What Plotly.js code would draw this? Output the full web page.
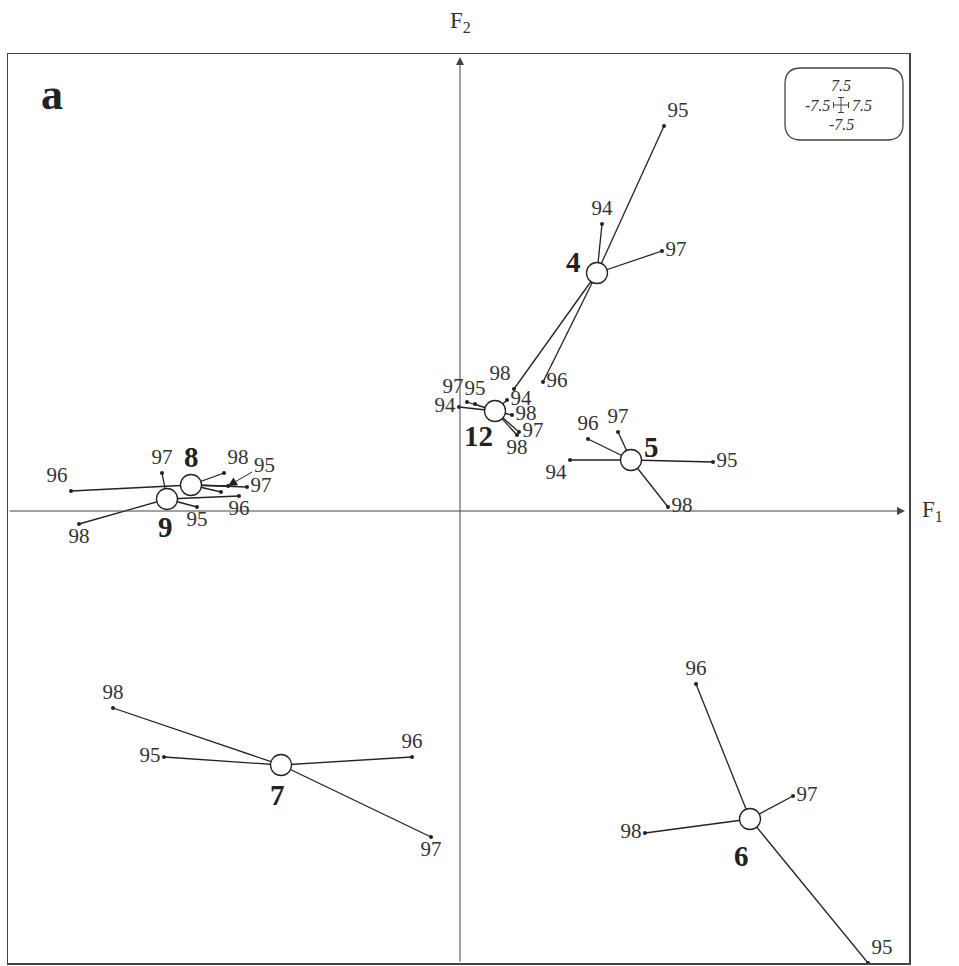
<!DOCTYPE html>
<html>
<head>
<meta charset="utf-8">
<script src="https://cdn.plot.ly/plotly-3.0.1.min.js"></script>
<style>
  body { margin: 0; background: #fff; }
  #chart { width: 959px; height: 966px; }
</style>
</head>
<body>
<div id="chart"></div>
<script>
// group scores on F1 / F2 (centre of each group)
const groupNames = ['4', '12', '5', '8', '9', '7', '6'];
const centerX = [13.7, 3.5, 17.1, -26.9, -29.3, -17.9, 29.0];
const centerY = [23.8, 10.0, 5.1, 2.6, 1.2, -25.4, -30.8];

// yearly points of each group
const years = [
  ['95', '94', '97', '96', '98'],
  ['94', '97', '95', '94', '98', '97', '98'],
  ['94', '96', '97', '95', '98'],
  ['96', '98', '95', '97', '94'],
  ['97', '96', '95', '98'],
  ['98', '95', '96', '97'],
  ['96', '97', '98', '95']
];
const pointX = [
  [20.4, 14.2, 20.2, 8.3, 5.4],
  [-0.1, 0.7, 1.5, 4.7, 5.2, 5.9, 5.7],
  [11.0, 12.8, 15.8, 25.3, 20.8],
  [-38.9, -23.6, -23.2, -21.3, -23.9],
  [-29.8, -22.1, -26.3, -38.1],
  [-34.7, -29.6, -4.8, -2.9],
  [23.6, 33.3, 18.5, 40.8]
];
const pointY = [
  [38.5, 28.7, 26.0, 12.9, 12.2],
  [10.4, 10.9, 10.7, 11.1, 9.6, 7.9, 7.6],
  [5.1, 7.2, 7.9, 4.9, 0.4],
  [2.0, 3.8, 2.5, 2.4, 1.9],
  [3.8, 1.5, 0.4, -1.3],
  [-19.7, -24.6, -24.6, -32.6],
  [-17.3, -28.5, -32.2, -45.2]
];

// where each year label sits (style, not data)
const labelPos = [
  ['top right', 'top center', 'middle right', 'middle right', 'top left'],
  ['middle left', 'top left', 'top center', 'middle right', 'middle right', 'middle right', 'bottom center'],
  ['bottom left', 'top center', 'top center', 'middle right', 'middle right'],
  ['top left', 'top right', 'arrow', 'middle right', 'none'],
  ['top center', 'bottom center', 'bottom center', 'bottom center'],
  ['top center', 'middle left', 'top center', 'bottom center'],
  ['top center', 'middle right', 'middle left', 'top right']
];
// pixel offsets of the bold group numbers from their centre
const groupShift = [[-24, 11], [-17, -25], [20, 13], [0, 28], [-2, -28], [-4, -30], [-9, -37]];

const serif = 'Liberation Serif, Times New Roman, serif';
const ink = '#222';

let traces = [];
let annotations = [];

for (let g = 0; g < groupNames.length; g++) {
  let lx = [];
  let ly = [];
  for (let i = 0; i < pointX[g].length; i++) {
    lx.push(centerX[g], pointX[g][i], null);
    ly.push(centerY[g], pointY[g][i], null);
  }
  traces.push({
    x: lx, y: ly, mode: 'lines', type: 'scatter',
    line: { color: ink, width: 1.3 }, hoverinfo: 'skip'
  });

  const txt = years[g].map((y, i) => (labelPos[g][i] === 'arrow' || labelPos[g][i] === 'none') ? ' ' : y);
  const pos = labelPos[g].map(p => (p === 'arrow' || p === 'none') ? 'middle right' : p);
  traces.push({
    x: pointX[g], y: pointY[g], mode: 'markers+text', type: 'scatter',
    text: txt, textposition: pos,
    textfont: { family: serif, size: 21, color: '#333' },
    marker: { color: ink, size: 4 }
  });

  // leader arrow for labels that sit away from their point
  labelPos[g].forEach((p, i) => {
    if (p === 'arrow') {
      annotations.push({
        x: pointX[g][i], y: pointY[g][i], xref: 'x', yref: 'y',
        ax: pointX[g][i] + 3.6, ay: pointY[g][i] + 2.1, axref: 'x', ayref: 'y',
        text: years[g][i], showarrow: true, arrowhead: 2, arrowsize: 1.8,
        arrowwidth: 1, arrowcolor: ink,
        font: { family: serif, size: 21, color: '#333' }
      });
    }
  });

  annotations.push({
    x: centerX[g], y: centerY[g], xref: 'x', yref: 'y',
    xshift: groupShift[g][0], yshift: groupShift[g][1],
    text: '<b>' + groupNames[g] + '</b>', showarrow: false,
    font: { family: serif, size: 29, color: ink }
  });
}

// group centres
traces.push({
  x: centerX, y: centerY, mode: 'markers', type: 'scatter',
  marker: { color: '#fff', size: 21, line: { color: ink, width: 1.3 } }
});

// F1 and F2 axes with arrows
annotations.push({
  x: 44.5, y: 0, ax: -45.2, ay: 0, xref: 'x', yref: 'y', axref: 'x', ayref: 'y',
  text: '', showarrow: true, arrowhead: 2, arrowsize: 1.6, arrowwidth: 1, arrowcolor: '#444'
});
annotations.push({
  x: 0, y: 45.4, ax: 0, ay: -45.2, xref: 'x', yref: 'y', axref: 'x', ayref: 'y',
  text: '', showarrow: true, arrowhead: 2, arrowsize: 1.6, arrowwidth: 1, arrowcolor: '#444'
});
annotations.push({
  x: 1.012, y: 0, xref: 'paper', yref: 'y', xanchor: 'left', yanchor: 'middle',
  text: 'F<sub>1</sub>', showarrow: false, font: { family: serif, size: 23, color: '#333' }
});
annotations.push({
  x: 0, y: 1.018, xref: 'x', yref: 'paper', xanchor: 'center', yanchor: 'bottom',
  text: 'F<sub>2</sub>', showarrow: false, font: { family: serif, size: 23, color: '#333' }
});
annotations.push({
  x: 0.034, y: 0.985, xref: 'paper', yref: 'paper', xanchor: 'left', yanchor: 'top',
  text: '<b>a</b>', showarrow: false, font: { family: serif, size: 44, color: ink }
});

// scale box in the top right corner
const scaleBox = { cx: 38.1, cy: 40.6 };
const italic = { family: serif, size: 16, color: '#333', style: 'italic' };
annotations.push({ x: scaleBox.cx, y: scaleBox.cy + 0.9, xref: 'x', yref: 'y', yanchor: 'bottom', text: '7.5', showarrow: false, font: italic });
annotations.push({ x: scaleBox.cx, y: scaleBox.cy - 0.9, xref: 'x', yref: 'y', yanchor: 'top', text: '-7.5', showarrow: false, font: italic });
annotations.push({ x: scaleBox.cx - 0.9, y: scaleBox.cy, xref: 'x', yref: 'y', xanchor: 'right', text: '-7.5', showarrow: false, font: italic });
annotations.push({ x: scaleBox.cx + 0.9, y: scaleBox.cy, xref: 'x', yref: 'y', xanchor: 'left', text: '7.5', showarrow: false, font: italic });

const r = 1.6;
const bx0 = 32.5, bx1 = 44.3, by0 = 37.1, by1 = 44.3;
const boxPath = `M ${bx0 + r} ${by1} L ${bx1 - r} ${by1} Q ${bx1} ${by1} ${bx1} ${by1 - r} ` +
  `L ${bx1} ${by0 + r} Q ${bx1} ${by0} ${bx1 - r} ${by0} L ${bx0 + r} ${by0} ` +
  `Q ${bx0} ${by0} ${bx0} ${by0 + r} L ${bx0} ${by1 - r} Q ${bx0} ${by1} ${bx0 + r} ${by1} Z`;

const arm = 0.75, tick = 0.3;
const cx = scaleBox.cx, cy = scaleBox.cy;
let shapes = [
  { type: 'path', path: boxPath, xref: 'x', yref: 'y', line: { color: '#444', width: 1.3 } },
  { type: 'line', xref: 'x', yref: 'y', x0: cx - arm, x1: cx + arm, y0: cy, y1: cy, line: { color: '#444', width: 1 } },
  { type: 'line', xref: 'x', yref: 'y', x0: cx, x1: cx, y0: cy - arm, y1: cy + arm, line: { color: '#444', width: 1 } },
  { type: 'line', xref: 'x', yref: 'y', x0: cx - arm, x1: cx - arm, y0: cy - tick, y1: cy + tick, line: { color: '#444', width: 1 } },
  { type: 'line', xref: 'x', yref: 'y', x0: cx + arm, x1: cx + arm, y0: cy - tick, y1: cy + tick, line: { color: '#444', width: 1 } },
  { type: 'line', xref: 'x', yref: 'y', x0: cx - tick, x1: cx + tick, y0: cy - arm, y1: cy - arm, line: { color: '#444', width: 1 } },
  { type: 'line', xref: 'x', yref: 'y', x0: cx - tick, x1: cx + tick, y0: cy + arm, y1: cy + arm, line: { color: '#444', width: 1 } }
];

let layout = {
  width: 959, height: 966,
  margin: { l: 8, r: 50, t: 54, b: 3 },
  paper_bgcolor: '#fff', plot_bgcolor: '#fff',
  showlegend: false,
  font: { family: serif },
  xaxis: {
    range: [-45.2, 44.9], showgrid: false, zeroline: false, showticklabels: false,
    ticks: '', showline: true, mirror: true, linecolor: '#444', linewidth: 1.5, fixedrange: true
  },
  yaxis: {
    range: [-45.2, 45.7], showgrid: false, zeroline: false, showticklabels: false,
    ticks: '', showline: true, mirror: true, linecolor: '#444', linewidth: 1.5, fixedrange: true
  },
  annotations: annotations,
  shapes: shapes
};

Plotly.newPlot('chart', traces, layout, { displayModeBar: false, staticPlot: true });
</script>
</body>
</html>
